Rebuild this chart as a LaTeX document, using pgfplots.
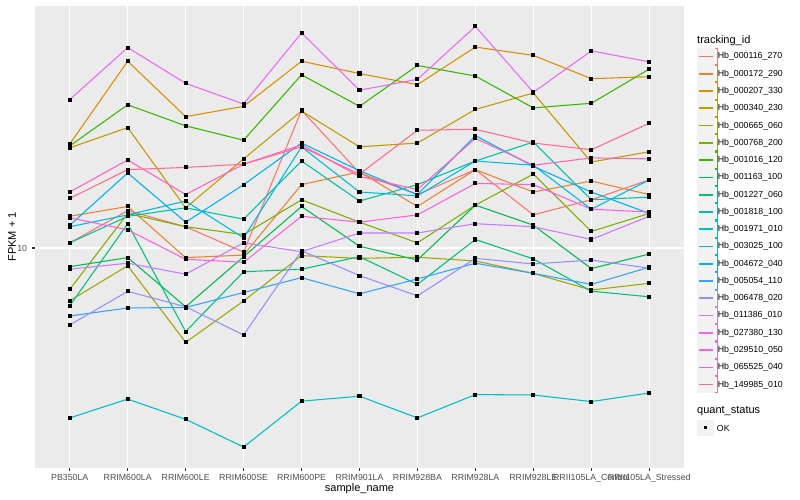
\documentclass[border=0pt]{standalone}
\usepackage{pgfplots}
\pgfplotsset{compat=1.18}
\usepackage{fontspec}
\setmainfont{Liberation Sans}

\definecolor{panel}{HTML}{EBEBEB}
\definecolor{legkey}{HTML}{F2F2F2}
\definecolor{ticktext}{HTML}{4D4D4D}
\definecolor{tickmark}{HTML}{333333}
\definecolor{c1}{HTML}{F8766D}
\definecolor{c2}{HTML}{EA8331}
\definecolor{c3}{HTML}{D89000}
\definecolor{c4}{HTML}{C09B00}
\definecolor{c5}{HTML}{A3A500}
\definecolor{c6}{HTML}{7CAE00}
\definecolor{c7}{HTML}{39B600}
\definecolor{c8}{HTML}{00BB4E}
\definecolor{c9}{HTML}{00BF7D}
\definecolor{c10}{HTML}{00C1A3}
\definecolor{c11}{HTML}{00BFC4}
\definecolor{c12}{HTML}{00BAE0}
\definecolor{c13}{HTML}{00B0F6}
\definecolor{c14}{HTML}{35A2FF}
\definecolor{c15}{HTML}{9590FF}
\definecolor{c16}{HTML}{C77CFF}
\definecolor{c17}{HTML}{E76BF3}
\definecolor{c18}{HTML}{FA62DB}
\definecolor{c19}{HTML}{FF62BC}
\definecolor{c20}{HTML}{FF6C91}

\begin{document}
\begin{tikzpicture}
\path[use as bounding box] (-35bp,-32bp) rectangle (765bp,468bp);
\begin{axis}[
    scale only axis, width=649bp, height=462bp,
    xmin=0.4, xmax=11.6,
    ymode=log, ymin=2.818, ymax=40.27,
    xtick={1,...,11},
    xticklabels={PB350LA, RRIM600LA, RRIM600LE, RRIM600SE, RRIM600PE, RRIM901LA,
        RRIM928BA, RRIM928LA, RRIM928LE, RRII105LA\_Control, RRII105LA\_Stressed},
    ytick={10}, yticklabels={10},
    xminorticks=false, yminorticks=false,
    axis background/.style={fill=panel},
    axis line style={draw=none},
    grid=major, major grid style={white, line width=1.07bp},
    tick align=outside, tick pos=left, major tick length=2.75bp,
    tick style={tickmark, line width=1.07bp},
    tick label style={font=\fontsize{8.8bp}{10bp}\selectfont, text=ticktext},
    xticklabel style={anchor=north, inner sep=0pt, yshift=-3bp},
    yticklabel style={anchor=east, inner sep=0pt, xshift=-5bp},
    xlabel={sample\_name}, ylabel={FPKM + 1},
    label style={font=\fontsize{11bp}{13bp}\selectfont},
    xlabel style={at={(axis description cs:0.5,-0.045)}, anchor=center},
    ylabel style={at={(axis description cs:-0.0354,0.5)}, anchor=center},
    every axis plot/.append style={line width=1.07bp, mark=square*, mark size=1.5bp,
        mark options={draw=black, fill=black}},
    legend image code/.code={
        \path (0bp,-8.1bp) rectangle (19.7bp,8.1bp);
        \fill[legkey, overlay] (0bp,-8.1bp) rectangle (17.28bp,8.1bp);
        \draw[line width=1.7bp] (1.7bp,0bp) -- (15.58bp,0bp);
    },
    legend cell align=left,
    legend style={at={(axis description cs:1.02003,0.9094)}, anchor=north west,
        draw=none, fill=none, inner sep=0pt, outer sep=0pt, row sep=0pt,
        nodes={inner sep=0pt}, font=\fontsize{8.8bp}{10bp}\selectfont},
]
\addplot[c1] coordinates {(1,10.3)(2,12.4)(3,11.3)(4,9.77)(5,22.1)(6,15.4)(7,13.6)(8,15.7)(9,12.1)(10,13.2)(11,14.8)};
\addplot[c2] coordinates {(1,12.0)(2,12.7)(3,9.46)(4,9.60)(5,14.4)(6,15.5)(7,12.7)(8,15.7)(9,13.8)(10,14.7)(11,13.6)};
\addplot[c3] coordinates {(1,18.2)(2,29.3)(3,21.3)(4,22.6)(5,29.3)(6,27.3)(7,25.6)(8,31.8)(9,30.3)(10,26.5)(11,26.8)};
\addplot[c4] coordinates {(1,17.8)(2,20.0)(3,12.6)(4,16.7)(5,22.0)(6,17.9)(7,18.3)(8,22.2)(9,24.4)(10,16.4)(11,17.4)};
\addplot[c5] coordinates {(1,7.38)(2,9.03)(3,5.81)(4,7.37)(5,9.57)(6,9.42)(7,9.48)(8,9.28)(9,8.64)(10,7.85)(11,8.16)};
\addplot[c6] coordinates {(1,7.88)(2,12.2)(3,11.3)(4,10.8)(5,13.2)(6,11.6)(7,10.3)(8,12.8)(9,15.3)(10,11.0)(11,12.2)};
\addplot[c7] coordinates {(1,18.0)(2,22.8)(3,20.2)(4,18.6)(5,27.1)(6,22.6)(7,28.6)(8,26.9)(9,22.4)(10,23.0)(11,28.0)};
\addplot[c8] coordinates {(1,8.98)(2,9.46)(3,7.13)(4,9.51)(5,12.7)(6,10.1)(7,9.33)(8,12.8)(9,11.4)(10,8.88)(11,9.66)};
\addplot[c9] coordinates {(1,7.17)(2,11.5)(3,6.18)(4,8.72)(5,8.85)(6,9.51)(7,8.11)(8,10.5)(9,9.39)(10,7.80)(11,7.55)};
\addplot[c10] coordinates {(1,10.3)(2,12.0)(3,12.6)(4,11.8)(5,16.5)(6,13.1)(7,14.4)(8,16.5)(9,18.4)(10,13.2)(11,13.4)};
\addplot[c11] coordinates {(1,3.76)(2,4.19)(3,3.73)(4,3.18)(5,4.14)(6,4.26)(7,3.76)(8,4.30)(9,4.29)(10,4.13)(11,4.34)};
\addplot[c12] coordinates {(1,11.3)(2,12.1)(3,13.1)(4,10.6)(5,17.9)(6,13.8)(7,13.5)(8,16.5)(9,16.1)(10,12.5)(11,14.8)};
\addplot[c13] coordinates {(1,11.4)(2,15.4)(3,11.6)(4,14.4)(5,18.3)(6,15.6)(7,13.6)(8,19.1)(9,16.0)(10,13.8)(11,12.2)};
\addplot[c14] coordinates {(1,6.76)(2,7.08)(3,7.10)(4,7.74)(5,8.43)(6,7.68)(7,8.37)(8,9.16)(9,8.64)(10,8.11)(11,8.95)};
\addplot[c15] coordinates {(1,6.42)(2,7.79)(3,7.13)(4,6.06)(5,9.84)(6,8.53)(7,7.59)(8,9.42)(9,9.12)(10,9.33)(11,8.90)};
\addplot[c16] coordinates {(1,8.85)(2,9.16)(3,8.60)(4,10.3)(5,9.79)(6,10.9)(7,10.9)(8,11.5)(9,11.3)(10,10.5)(11,12.0)};
\addplot[c17] coordinates {(1,23.5)(2,31.7)(3,25.8)(4,22.9)(5,34.5)(6,24.8)(7,26.4)(8,35.8)(9,24.5)(10,31.1)(11,29.2)};
\addplot[c18] coordinates {(1,11.9)(2,11.1)(3,9.37)(4,9.21)(5,12.0)(6,11.6)(7,12.1)(8,14.5)(9,14.4)(10,12.5)(11,12.3)};
\addplot[c19] coordinates {(1,13.8)(2,16.6)(3,13.6)(4,16.2)(5,18.1)(6,15.1)(7,14.0)(8,18.8)(9,16.1)(10,16.8)(11,16.7)};
\addplot[c20] coordinates {(1,13.3)(2,15.7)(3,15.9)(4,16.2)(5,17.9)(6,15.3)(7,19.7)(8,19.8)(9,18.3)(10,17.6)(11,20.5)};
\legend{Hb\_000116\_270, Hb\_000172\_290, Hb\_000207\_330, Hb\_000340\_230, Hb\_000665\_060,
    Hb\_000768\_200, Hb\_001016\_120, Hb\_001163\_100, Hb\_001227\_060, Hb\_001818\_100,
    Hb\_001971\_010, Hb\_003025\_100, Hb\_004672\_040, Hb\_005054\_110, Hb\_006478\_020,
    Hb\_011386\_010, Hb\_027380\_130, Hb\_029510\_050, Hb\_065525\_040, Hb\_149985\_010}
\end{axis}
% legend titles and the quant_status key
\node[anchor=west, inner sep=0pt, font=\fontsize{11bp}{13bp}\selectfont] at (662bp,427.3bp) {tracking\_id};
\node[anchor=west, inner sep=0pt, font=\fontsize{11bp}{13bp}\selectfont] at (662bp,57bp) {quant\_status};
\fill[legkey] (662bp,31.9bp) rectangle (679.28bp,48.1bp);
\fill[black] (669.1bp,38.5bp) rectangle (672.1bp,41.5bp);
\node[anchor=west, inner sep=0pt, font=\fontsize{8.8bp}{10bp}\selectfont] at (681.7bp,40bp) {OK};
\end{tikzpicture}
\end{document}
